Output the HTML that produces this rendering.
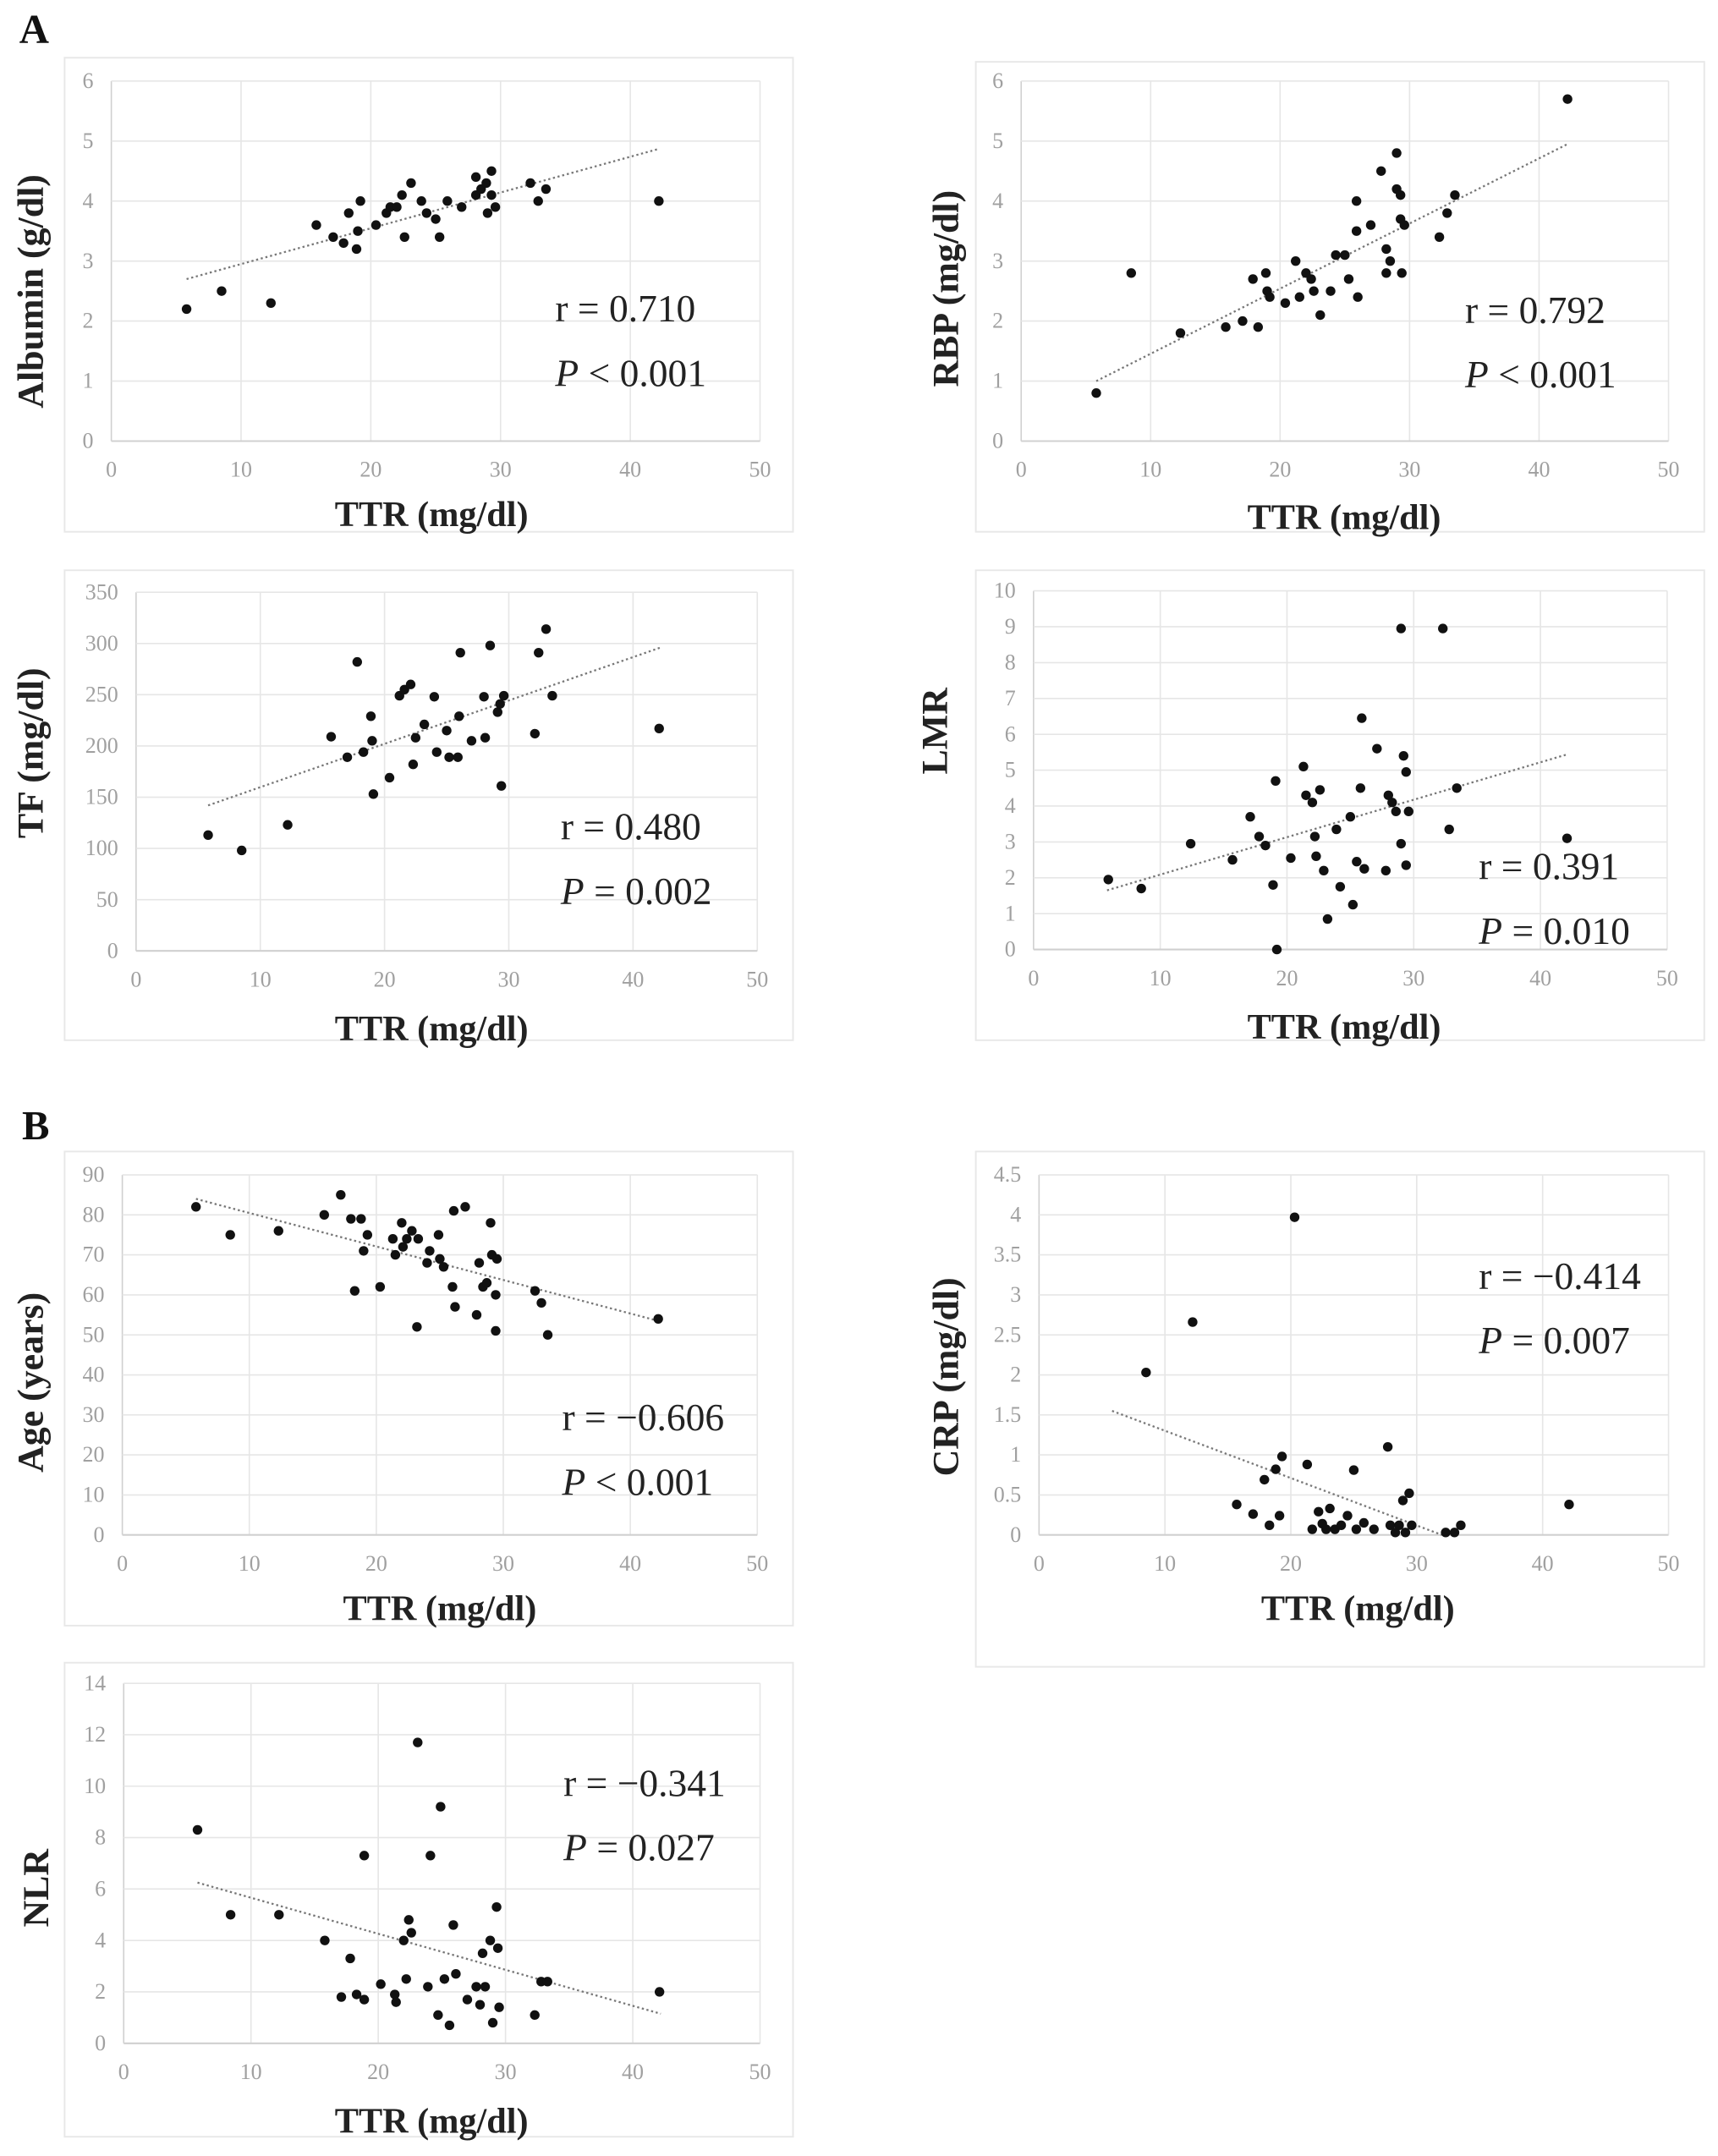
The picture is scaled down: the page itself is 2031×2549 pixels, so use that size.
<!DOCTYPE html>
<html><head><meta charset="utf-8"><style>
html,body{margin:0;padding:0;background:#fff;}
svg{display:block;}
</style></head><body>
<svg id="fig" width="2031" height="2549" viewBox="0 0 1250 1569" preserveAspectRatio="none" xmlns="http://www.w3.org/2000/svg" font-family="'Liberation Serif', serif">
<text x="14" y="31" font-size="30" font-weight="bold" fill="#111">A</text>
<text x="16" y="829" font-size="30" font-weight="bold" fill="#111">B</text>
</svg>
<script>
// ---- data arrays ----
const albuminTTR=[5.8,8.5,12.3,15.8,17.1,17.9,18.3,18.9,19.0,19.2,20.4,21.2,21.5,22.0,22.4,22.6,23.1,23.9,24.3,25.0,25.3,25.9,27.0,28.1,28.1,28.5,28.9,29.0,29.3,29.3,29.6,32.3,32.9,33.5,42.2];
const albuminVals=[2.2,2.5,2.3,3.6,3.4,3.3,3.8,3.2,3.5,4.0,3.6,3.8,3.9,3.9,4.1,3.4,4.3,4.0,3.8,3.7,3.4,4.0,3.9,4.4,4.1,4.2,4.3,3.8,4.5,4.1,3.9,4.3,4.0,4.2,4.0];
const albuminTrend=[[5.8,2.7],[42.2,4.87]];
const albuminTicks=[0,1,2,3,4,5,6];

const rbpTTR=[5.8,8.5,12.3,15.8,17.1,17.9,18.3,18.9,19.0,19.2,20.4,21.2,21.5,22.0,22.4,22.6,23.1,23.9,24.3,25.0,25.3,25.9,25.9,26.0,27.0,27.8,28.2,28.2,28.5,29.0,29.0,29.3,29.3,29.4,29.6,32.3,32.9,33.5,42.2];
const rbpVals=[0.8,2.8,1.8,1.9,2.0,2.7,1.9,2.8,2.5,2.4,2.3,3.0,2.4,2.8,2.7,2.5,2.1,2.5,3.1,3.1,2.7,3.5,4.0,2.4,3.6,4.5,3.2,2.8,3.0,4.8,4.2,4.1,3.7,2.8,3.6,3.4,3.8,4.1,5.7];
const rbpTrend=[[5.8,1.0],[42.2,4.95]];
const rbpTicks=[0,1,2,3,4,5,6];

const tfTTR=[5.8,8.5,12.2,15.7,17.0,17.8,18.3,18.9,19.0,19.1,20.4,21.2,21.6,22.1,22.3,22.5,23.2,24.0,24.2,25.0,25.2,25.9,26.1,26.0,27.0,28.0,28.1,28.5,29.1,29.3,29.4,29.6,32.1,32.4,33.0,33.5,42.1];
const tfVals=[113,98,123,209,189,282,194,229,205,153,169,249,255,260,182,208,221,248,194,215,189,189,291,229,205,248,208,298,233,241,161,249,212,291,314,249,217];
const tfTrend=[[5.8,142],[42.2,296]];
const tfTicks=[0,50,100,150,200,250,300,350];

const lmrTTR=[5.9,8.5,12.4,15.7,17.1,17.8,18.3,18.9,19.1,19.2,20.3,21.3,21.5,22.0,22.2,22.3,22.6,22.9,23.2,23.9,24.2,25.0,25.2,25.5,25.8,25.9,26.1,27.1,27.8,28.0,28.3,28.6,29.0,29.0,29.2,29.4,29.4,29.6,32.3,32.8,33.4,42.1];
const lmrVals=[1.95,1.7,2.95,2.5,3.7,3.15,2.9,1.8,4.7,0,2.55,5.1,4.3,4.1,3.15,2.6,4.45,2.2,0.85,3.35,1.75,3.7,1.25,2.45,4.5,6.45,2.25,5.6,2.2,4.3,4.1,3.85,2.95,8.95,5.4,4.95,2.35,3.85,8.95,3.35,4.5,3.1];
const lmrTrend=[[5.8,1.65],[42.2,5.45]];
const lmrTicks=[0,1,2,3,4,5,6,7,8,9,10];

const ageTTR=[5.8,8.5,12.3,15.9,17.2,18.0,18.3,18.8,19.0,19.3,20.3,21.3,21.5,22.0,22.1,22.4,22.8,23.2,23.3,24.0,24.2,24.9,25.0,25.3,26.0,26.1,26.2,27.0,27.9,28.1,28.4,28.7,29.0,29.1,29.4,29.4,29.5,32.5,33.0,33.5,42.2];
const ageVals=[82,75,76,80,85,79,61,79,71,75,62,74,70,78,72,74,76,52,74,68,71,75,69,67,62,81,57,82,55,68,62,63,78,70,60,51,69,61,58,50,54];
const ageTrend=[[5.8,84],[42.2,53.5]];
const ageTicks=[0,10,20,30,40,50,60,70,80,90];

const crpTTR=[8.5,12.2,15.7,17.0,17.9,18.3,18.8,19.1,19.3,20.3,21.3,21.7,22.2,22.5,22.8,23.1,23.5,24.0,24.5,25.0,25.2,25.8,26.6,27.7,27.9,28.3,28.6,28.9,29.1,29.4,29.6,32.3,33.0,33.5,42.1];
const crpVals=[2.03,2.66,0.38,0.26,0.69,0.12,0.82,0.24,0.98,3.97,0.88,0.07,0.29,0.14,0.07,0.33,0.07,0.12,0.24,0.81,0.07,0.15,0.07,1.10,0.12,0.03,0.12,0.43,0.03,0.52,0.12,0.03,0.03,0.12,0.38];
const crpTrend=[[5.8,1.55],[32,0]];
const crpTicks=[0,0.5,1,1.5,2,2.5,3,3.5,4,4.5];

const nlrTTR=[5.8,8.4,12.2,15.8,17.1,17.8,18.3,18.9,18.9,20.2,21.3,21.4,22.0,22.2,22.4,22.6,23.1,23.9,24.1,24.7,24.9,25.2,25.6,25.9,26.1,27.0,27.7,28.0,28.2,28.4,28.8,29.0,29.3,29.4,29.5,32.3,32.8,33.3,42.1];
const nlrVals=[8.3,5.0,5.0,4.0,1.8,3.3,1.9,1.7,7.3,2.3,1.9,1.6,4.0,2.5,4.8,4.3,11.7,2.2,7.3,1.1,9.2,2.5,0.7,4.6,2.7,1.7,2.2,1.5,3.5,2.2,4.0,0.8,5.3,3.7,1.4,1.1,2.4,2.4,2.0];
const nlrTrend=[[5.8,6.25],[42.2,1.15]];
const nlrTicks=[0,2,4,6,8,10,12,14];

const xTicks=[0,10,20,30,40,50];

// ---- drawing ----
const NS='http://www.w3.org/2000/svg';
const svg=document.getElementById('fig');
function mk(tag,attrs,parent){const e=document.createElementNS(NS,tag);for(const k in attrs)e.setAttribute(k,attrs[k]);(parent||svg).appendChild(e);return e;}

function drawPanel(cfg,xs,ys,trend,yTicks){
  const g=mk('g',{});
  
  
  const fr=mk('rect',{x:cfg.fx,y:cfg.fy,width:cfg.fw,height:cfg.fh,fill:'none',stroke:'#e8e8e8','stroke-width':1.2},g);
  
  
  const ymax=yTicks[yTicks.length-1];
  const sx=v=>cfg.x0+(v/50)*(cfg.x1-cfg.x0);
  const sy=v=>cfg.yb-(v/ymax)*(cfg.yb-cfg.yt);
  xTicks.forEach(t=>{
    const l=mk('line',{x1:sx(t),x2:sx(t),y1:cfg.yt,y2:cfg.yb,stroke:t===0?'#d0d0d0':'#e6e6e6','stroke-width':1},g);
    
    
    const tx=mk('text',{x:sx(t),y:cfg.yb+26,'font-size':16,fill:'#a0a0a0','text-anchor':'middle'},g);
    tx.textContent=t;
    
    
  });
  yTicks.forEach(t=>{
    const l=mk('line',{x1:cfg.x0,x2:cfg.x1,y1:sy(t),y2:sy(t),stroke:t===0?'#d0d0d0':'#e6e6e6','stroke-width':t===0?1.3:1},g);
    
    
    const tx=mk('text',{x:cfg.x0-13,y:sy(t)+5,'font-size':16,fill:'#a0a0a0','text-anchor':'end'},g);
    tx.textContent=t;
    
    
  });
  const tl=mk('line',{x1:sx(trend[0][0]),y1:sy(trend[0][1]),x2:sx(trend[1][0]),y2:sy(trend[1][1]),stroke:'#777','stroke-width':1.4,'stroke-dasharray':'1.5 2'},g);
  
  
  xs.forEach((x,i)=>{
    const c=mk('circle',{cx:sx(x),cy:sy(ys[i]),r:3.5,fill:'#111'},g);
    
    
  });
  const xl=mk('text',{x:cfg.xlx,y:cfg.xly,'font-size':26,'font-weight':'bold',fill:'#222','text-anchor':'middle'},g);
  xl.textContent='TTR (mg/dl)';
  
  
  const yl=mk('text',{x:0,y:0,'font-size':27,'font-weight':'bold',fill:'#222','text-anchor':'middle',transform:`translate(${cfg.ylx},${cfg.yly}) rotate(-90)`},g);
  yl.textContent=cfg.ylabel;
  
  
  const r=mk('text',{x:cfg.ax,y:cfg.ay,'font-size':28,fill:'#222'},g);
  r.textContent=cfg.rtext;
  
  
  const p=mk('text',{x:cfg.ax,y:cfg.ay+47,'font-size':28,fill:'#222'},g);
  const pi=mk('tspan',{'font-style':'italic'},p);pi.textContent='P';
  const pr=mk('tspan',{},p);pr.textContent=cfg.ptext;
  
  
}

drawPanel({name:'albumin',fx:47,fy:42,fw:530,fh:345,x0:81,x1:553,yt:59,yb:321,xlx:314,xly:383,ylx:31,yly:212,ylabel:'Albumin (g/dl)',ax:404,ay:234,rtext:'r = 0.710',ptext:' < 0.001'},albuminTTR,albuminVals,albuminTrend,albuminTicks);
drawPanel({name:'rbp',fx:710,fy:45,fw:530,fh:342,x0:743,x1:1214,yt:59,yb:321,xlx:978,xly:385,ylx:697,yly:210,ylabel:'RBP (mg/dl)',ax:1066,ay:235,rtext:'r = 0.792',ptext:' < 0.001'},rbpTTR,rbpVals,rbpTrend,rbpTicks);
drawPanel({name:'tf',fx:47,fy:415,fw:530,fh:342,x0:99,x1:551,yt:431,yb:692,xlx:314,xly:757,ylx:31,yly:548,ylabel:'TF (mg/dl)',ax:408,ay:611,rtext:'r = 0.480',ptext:' = 0.002'},tfTTR,tfVals,tfTrend,tfTicks);
drawPanel({name:'lmr',fx:710,fy:415,fw:530,fh:342,x0:752,x1:1213,yt:430,yb:691,xlx:978,xly:756,ylx:689,yly:532,ylabel:'LMR',ax:1076,ay:640,rtext:'r = 0.391',ptext:' = 0.010'},lmrTTR,lmrVals,lmrTrend,lmrTicks);
drawPanel({name:'age',fx:47,fy:838,fw:530,fh:345,x0:89,x1:551,yt:855,yb:1117,xlx:320,xly:1179,ylx:31,yly:1006,ylabel:'Age (years)',ax:409,ay:1041,rtext:'r = \u22120.606',ptext:' < 0.001'},ageTTR,ageVals,ageTrend,ageTicks);
drawPanel({name:'crp',fx:710,fy:838,fw:530,fh:375,x0:756,x1:1214,yt:855,yb:1117,xlx:988,xly:1179,ylx:697,yly:1002,ylabel:'CRP (mg/dl)',ax:1076,ay:938,rtext:'r = \u22120.414',ptext:' = 0.007'},crpTTR,crpVals,crpTrend,crpTicks);
drawPanel({name:'nlr',fx:47,fy:1210,fw:530,fh:345,x0:90,x1:553,yt:1225,yb:1487,xlx:314,xly:1552,ylx:35,yly:1374,ylabel:'NLR',ax:410,ay:1307,rtext:'r = \u22120.341',ptext:' = 0.027'},nlrTTR,nlrVals,nlrTrend,nlrTicks);
</script>
</body></html>
